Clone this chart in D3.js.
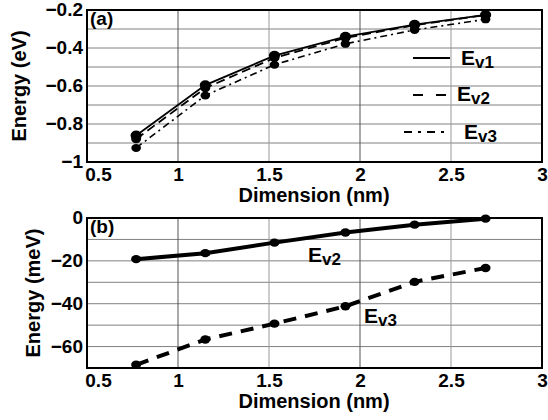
<!DOCTYPE html>
<html>
<head>
<meta charset="utf-8">
<script src="https://cdn.jsdelivr.net/npm/d3@7"></script>
<style>
  body { margin: 0; background: #fff; }
  svg { font-family: "Liberation Sans", Arial, sans-serif; font-weight: bold; }
</style>
</head>
<body>
<svg id="chart" width="548" height="420"></svg>
<script>
// dimension (nm)
const dims = [0.77, 1.15, 1.53, 1.92, 2.30, 2.69];

// panel (a): energies in eV
const ev1 = [-0.86, -0.595, -0.44, -0.34, -0.277, -0.226];
const ev2 = [-0.879, -0.611, -0.452, -0.347, -0.280, -0.226];
const ev3 = [-0.926, -0.650, -0.488, -0.378, -0.305, -0.249];

// panel (b): energies relative to Ev1 in meV
const dEv2 = [-19.2, -16.4, -11.5, -6.8, -3.1, -0.3];
const dEv3 = [-68.5, -56.7, -49.3, -41.2, -29.8, -23.3];

const xTicks = [0.5, 1, 1.5, 2, 2.5, 3];
const yTicksA = [-1, -0.8, -0.6, -0.4, -0.2];
const yTicksB = [-60, -40, -20, 0];

const svg = d3.select("#chart");
const left = 87, right = 542;

const x = d3.scaleLinear().domain([0.5, 3]).range([left, right]);

// draw one panel's frame, grid, axes
const drawPanel = (top, bottom, domain, ticks, gridStep, title, tag) => {
  const y = d3.scaleLinear().domain(domain).range([bottom, top]);
  const g = svg.append("g");

  // horizontal grid
  const gridVals = d3.range(domain[0], domain[1] + gridStep / 2, gridStep);
  g.selectAll(".hg").data(gridVals).enter().append("line")
    .attr("x1", left).attr("x2", right)
    .attr("y1", d => y(d)).attr("y2", d => y(d))
    .attr("stroke", "#808080").attr("stroke-width", 1);
  // vertical grid
  g.selectAll(".vg").data(xTicks).enter().append("line")
    .attr("x1", d => x(d)).attr("x2", d => x(d))
    .attr("y1", top).attr("y2", bottom)
    .attr("stroke", (d, i) => (i % 2 === 1 ? "#555" : "#999")).attr("stroke-width", 1);

  // frame
  g.append("rect").attr("x", left).attr("y", top)
    .attr("width", right - left).attr("height", bottom - top)
    .attr("fill", "none").attr("stroke", "#000").attr("stroke-width", 2);

  // x axis
  const xa = g.append("g").attr("transform", `translate(0,${bottom})`)
    .call(d3.axisBottom(x).tickValues(xTicks).tickSize(0).tickFormat(d3.format("")));
  xa.select(".domain").remove();
  xa.selectAll("text").attr("font-size", 19).attr("font-weight", "bold")
    .attr("fill", "#000").attr("dy", "0.85em")
    .attr("dx", (d, i) => (i === 0 ? 11 : 0));

  // y axis
  const ya = g.append("g").attr("transform", `translate(${left},0)`)
    .call(d3.axisLeft(y).tickValues(ticks).tickSize(0).tickFormat(d3.format("")));
  ya.select(".domain").remove();
  ya.selectAll("text").attr("font-size", 19).attr("font-weight", "bold")
    .attr("fill", "#000").attr("x", -4).attr("dy", "0.3em");

  // axis titles
  g.append("text").attr("x", 314).attr("y", bottom + 40)
    .attr("text-anchor", "middle").attr("font-size", 20).text("Dimension (nm)");
  g.append("text")
    .attr("transform", `translate(${title.x},${(top + bottom) / 2}) rotate(-90)`)
    .attr("text-anchor", "middle").attr("font-size", 20).text(title.text);

  // panel tag
  g.append("text").attr("x", left + 3).attr("y", top + 15)
    .attr("font-size", 19).text(tag);

  return y;
};

const yA = drawPanel(10, 162, [-1, -0.2], yTicksA, 0.1, { x: 26, text: "Energy (eV)" }, "(a)");
const yB = drawPanel(218, 368, [-70, 0], yTicksB, 10, { x: 40, text: "Energy (meV)" }, "(b)");

const drawSeries = (vals, y, dash, width, r) => {
  const pts = dims.map((d, i) => [d, vals[i]]);
  svg.append("path").datum(pts)
    .attr("d", d3.line().x(d => x(d[0])).y(d => y(d[1])))
    .attr("fill", "none").attr("stroke", "#000")
    .attr("stroke-width", width).attr("stroke-dasharray", dash);
  svg.append("g").selectAll("ellipse").data(pts).enter().append("ellipse")
    .attr("cx", d => x(d[0])).attr("cy", d => y(d[1]))
    .attr("rx", r + 0.8).attr("ry", r).attr("fill", "#000");
};

// panel (a)
drawSeries(ev3, yA, "7,4,2,4", 1.6, 4);
drawSeries(ev2, yA, "9,5", 1.8, 4.2);
drawSeries(ev1, yA, null, 1.8, 4.8);

// panel (b)
drawSeries(dEv2, yB, null, 4, 4.2);
drawSeries(dEv3, yB, "13,9", 4, 4.2);

// legend in panel (a)
const legend = [
  { name: "1", dash: null, x1: 413, y: 58, tx: 461, ty: 65 },
  { name: "2", dash: "10,13", x1: 413, y: 95, tx: 457, ty: 101 },
  { name: "3", dash: "8,6,3,6", x1: 404, y: 132, tx: 464, ty: 139 }
];
legend.forEach(l => {
  svg.append("line").attr("x1", l.x1).attr("x2", 450)
    .attr("y1", l.y).attr("y2", l.y)
    .attr("stroke", "#000").attr("stroke-width", 2).attr("stroke-dasharray", l.dash);
  const t = svg.append("text").attr("x", l.tx).attr("y", l.ty).attr("font-size", 21);
  t.append("tspan").text("E");
  t.append("tspan").attr("dy", 3).attr("font-size", 17).text("v" + l.name);
});

// labels in panel (b)
const bLabels = [
  { name: "2", tx: 308, ty: 262 },
  { name: "3", tx: 364, ty: 323 }
];
bLabels.forEach(l => {
  const t = svg.append("text").attr("x", l.tx).attr("y", l.ty).attr("font-size", 21);
  t.append("tspan").text("E");
  t.append("tspan").attr("dy", 3).attr("font-size", 17).text("v" + l.name);
});
</script>
</body>
</html>
